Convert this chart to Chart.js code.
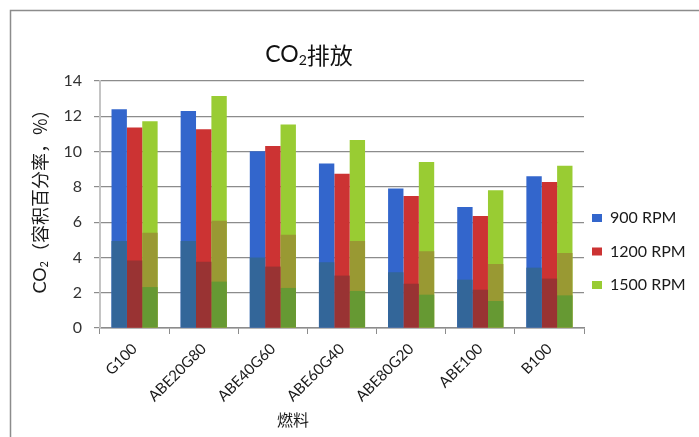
<!DOCTYPE html>
<html>
<head>
<meta charset="utf-8">
<script src="https://cdn.jsdelivr.net/npm/chart.js@4/dist/chart.umd.min.js"></script>
<style>
  html, body { margin: 0; padding: 0; background: #ffffff; }
  #wrap { width: 699px; height: 437px; position: relative; }
</style>
</head>
<body>
<div id="wrap"><canvas id="c"></canvas></div>
<script>
// Fuel blends on the x axis
const categories = ['G100', 'ABE20G80', 'ABE40G60', 'ABE60G40', 'ABE80G20', 'ABE100', 'B100'];

// CO2 volume fraction (%) per engine speed: bar totals
const rpm900  = [12.40, 12.30, 10.02, 9.32, 7.90, 6.86, 8.60];
const rpm1200 = [11.36, 11.26, 10.32, 8.75, 7.48, 6.35, 8.28];
const rpm1500 = [11.72, 13.15, 11.53, 10.66, 9.41, 7.81, 9.20];

// heights of the darker shaded lower parts of each bar
const rpm900Lower  = [4.93, 4.93, 3.99, 3.72, 3.16, 2.74, 3.42];
const rpm1200Lower = [3.82, 3.76, 3.48, 2.97, 2.51, 2.17, 2.80];
const rpm1500Mid   = [5.40, 6.08, 5.29, 4.93, 4.35, 3.63, 4.25];
const rpm1500Lower = [2.32, 2.63, 2.27, 2.10, 1.89, 1.53, 1.85];

const seriesNames = ['900 RPM', '1200 RPM', '1500 RPM'];
const yTicks = [0, 2, 4, 6, 8, 10, 12, 14];

const LATIN = 'Lato, "Noto Sans CJK SC", sans-serif';
const CJK = '"Noto Sans CJK SC", Lato, sans-serif';
const LEGEND_PAD = 17.5;

function bar(label, data, color, stack, order) {
  return {
    label, data, stack, order,
    backgroundColor: color,
    borderWidth: 0,
    categoryPercentage: 0.667,
    barPercentage: 1.0
  };
}

const datasets = [
  bar(seriesNames[0], rpm900, '#3366cc', 's900', 3),
  bar(seriesNames[1], rpm1200, '#cc3333', 's1200', 3),
  bar(seriesNames[2], rpm1500, '#99cc33', 's1500', 3),
  bar('900 lower', rpm900Lower, '#336699', 's900', 1),
  bar('1200 lower', rpm1200Lower, '#993333', 's1200', 1),
  bar('1500 mid', rpm1500Mid, '#999933', 's1500', 2),
  bar('1500 lower', rpm1500Lower, '#669933', 's1500', 1)
];

// Draws the outer frame, chart title and both axis titles (with subscript 2),
// and keeps the legend swatches a small gap away from the plot
const decorations = {
  id: 'decorations',
  afterLayout(chart) {
    const lg = chart.legend;
    if (!lg) return;
    const target = chart.chartArea.right + 8 - LEGEND_PAD;
    const dx = target - lg.left;
    lg.left += dx;
    lg.right += dx;
  },
  beforeDraw(chart) {
    const ctx = chart.ctx;
    ctx.save();
    ctx.strokeStyle = '#8c8c8c';
    ctx.lineWidth = 1.5;
    ctx.beginPath();
    ctx.moveTo(10.5, chart.height);
    ctx.lineTo(10.5, 10.5);
    ctx.lineTo(chart.width, 10.5);
    ctx.stroke();
    ctx.restore();
  },
  afterDraw(chart) {
    const ctx = chart.ctx;
    function subText(parts, cx, cy, size, color, rotate) {
      ctx.save();
      ctx.translate(cx, cy);
      if (rotate) ctx.rotate(-Math.PI / 2);
      ctx.fillStyle = color;
      ctx.textBaseline = 'middle';
      ctx.textAlign = 'left';
      const fontOf = p => (p.sub ? Math.round(size * 0.62) : size) + 'px ' + (p.cjk ? CJK : LATIN);
      const widths = parts.map(p => { ctx.font = fontOf(p); return ctx.measureText(p.t).width; });
      const total = widths.reduce((a, b) => a + b, 0);
      let x = -total / 2;
      parts.forEach((p, i) => {
        ctx.font = fontOf(p);
        ctx.fillText(p.t, x, p.sub ? size * 0.22 : 0);
        x += widths[i];
      });
      ctx.restore();
    }
    subText([{t: 'CO'}, {t: '2', sub: true}, {t: '排放', cjk: true}], 309, 55, 23, '#111111', false);
    subText([{t: 'CO'}, {t: '2', sub: true}, {t: '（容积百分率，%）', cjk: true}], 40, 197, 18, '#1a1a1a', true);
    subText([{t: '燃料', cjk: true}], 293, 420, 16, '#1a1a1a', false);
  }
};

new Chart(document.getElementById('c'), {
  type: 'bar',
  data: { labels: categories, datasets },
  plugins: [decorations],
  options: {
    responsive: true,
    maintainAspectRatio: false,
    animation: false,
    layout: { padding: { top: 81, left: 10, right: 0, bottom: 15 } },
    plugins: {
      title: { display: false },
      tooltip: { enabled: false },
      legend: {
        position: 'right',
        align: 'center',
        maxWidth: 115,
        labels: {
          filter: item => seriesNames.includes(item.text),
          boxWidth: 10,
          boxHeight: 8,
          padding: LEGEND_PAD,
          color: '#1a1a1a',
          font: { family: LATIN, size: 16 }
        }
      }
    },
    scales: {
      x: {
        stacked: true,
        afterFit: s => { s.height = 94; },
        grid: {
          offset: true,
          drawOnChartArea: false,
          drawTicks: true,
          tickLength: 6,
          color: '#8c8c8c'
        },
        border: { color: '#8c8c8c', width: 1.5 },
        ticks: {
          autoSkip: false,
          minRotation: 45,
          maxRotation: 45,
          padding: 6,
          color: '#1a1a1a',
          font: { family: LATIN, size: 15 }
        }
      },
      y: {
        stacked: false,
        min: 0,
        max: 14,
        afterFit: s => { s.width = 90; },
        afterBuildTicks: s => { s.ticks = yTicks.map(v => ({ value: v })); },
        grid: {
          color: '#8c8c8c',
          lineWidth: 1.2,
          tickLength: 6,
          drawTicks: true
        },
        border: { color: '#c4c4c4', width: 2 },
        ticks: {
          padding: 12,
          color: '#333333',
          font: { family: LATIN, size: 16 }
        }
      }
    }
  }
});
</script>
</body>
</html>
